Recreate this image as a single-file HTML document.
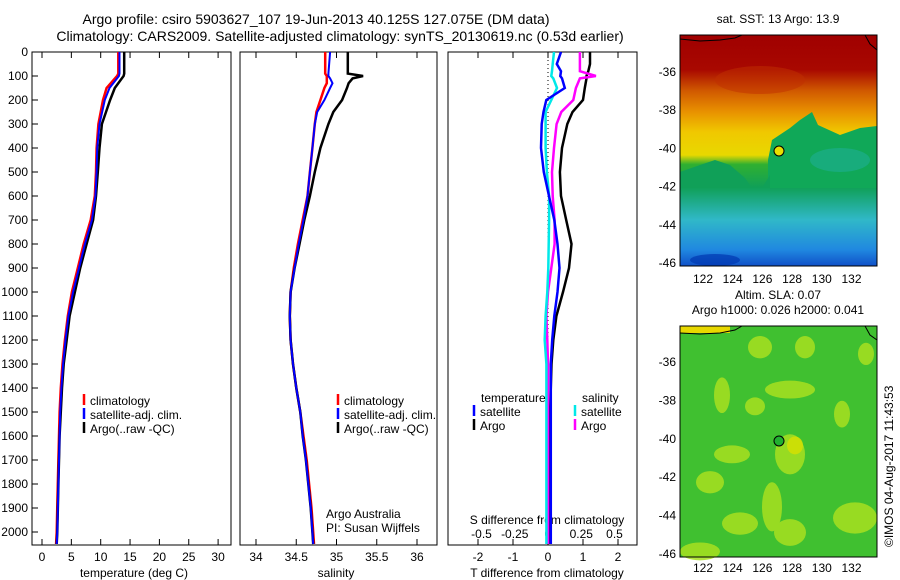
<!DOCTYPE html>
<html><head><meta charset="utf-8"><style>
body{margin:0;background:#fff;}
svg{display:block;font-family:"Liberation Sans",sans-serif;}
</style></head><body>
<svg id="fig" width="900" height="580" viewBox="0 0 900 580" xmlns="http://www.w3.org/2000/svg">
<defs>
<linearGradient id="sstg" x1="0" y1="0" x2="0" y2="1">
<stop offset="0" stop-color="#a00000"/><stop offset="0.15" stop-color="#a80800"/>
<stop offset="0.24" stop-color="#d05800"/><stop offset="0.33" stop-color="#e89000"/>
<stop offset="0.42" stop-color="#f0c800"/><stop offset="0.52" stop-color="#e8d800"/>
<stop offset="0.56" stop-color="#30b030"/><stop offset="0.66" stop-color="#10a058"/>
<stop offset="0.8" stop-color="#30b8c8"/><stop offset="0.93" stop-color="#2088e0"/>
<stop offset="1" stop-color="#1050c8"/></linearGradient>
</defs>
<g font-size="14" text-anchor="middle">
<text x="316" y="24">Argo profile: csiro 5903627_107 19-Jun-2013 40.125S 127.075E (DM data)</text>
<text x="340" y="41">Climatology: CARS2009. Satellite-adjusted climatology: synTS_20130619.nc (0.53d earlier)</text>
</g>
<g id="plots"></g>
<g>
<text x="778" y="23" font-size="12" text-anchor="middle">sat. SST: 13 Argo: 13.9</text>
<rect x="680" y="35" width="197" height="231" fill="url(#sstg)"/>
<path d="M768,160 L772,140 L790,128 L800,120 L812,112 L818,125 L840,135 L860,128 L877,126 L877,188 L768,188 Z" fill="#10a858"/>
<path d="M680,172 L700,165 L715,160 L730,165 L745,178 L752,188 L762,188 L770,175 L770,188 L680,188Z" fill="#10a058"/>
<ellipse cx="760" cy="80" rx="45" ry="14" fill="#c03000" opacity="0.5"/>
<ellipse cx="840" cy="160" rx="30" ry="12" fill="#20b0a0" opacity="0.5"/>
<ellipse cx="715" cy="260" rx="25" ry="6" fill="#0038b0" opacity="0.7"/>
<path d="M680,39 L700,41 L720,40 L735,38 L742,35" fill="none" stroke="#000"/>
<path d="M865,35 L870,44 L877,50" fill="none" stroke="#000"/>
<circle cx="779" cy="151" r="5" fill="#e8e000" stroke="#000"/>
<rect x="680" y="35" width="197" height="231" fill="none" stroke="#000"/>
</g>
<g>
<text x="778" y="299" font-size="12" text-anchor="middle">Altim. SLA: 0.07</text>
<text x="778" y="314" font-size="12" text-anchor="middle">Argo h1000: 0.026 h2000: 0.041</text>
<rect x="680" y="326" width="197" height="231" fill="#40c030"/>
<rect x="680" y="326" width="50" height="7" fill="#e8d800"/>
<g transform="translate(0,326) scale(1,1.116) translate(0,-293)">
<g fill="#a8e020" opacity="0.85">
<ellipse cx="760" cy="312" rx="12" ry="10"/><ellipse cx="805" cy="312" rx="10" ry="10"/><ellipse cx="866" cy="318" rx="8" ry="10"/>
<ellipse cx="722" cy="355" rx="8" ry="16"/><ellipse cx="790" cy="350" rx="25" ry="8"/><ellipse cx="755" cy="365" rx="10" ry="8"/>
<ellipse cx="842" cy="372" rx="8" ry="12"/><ellipse cx="790" cy="408" rx="15" ry="18"/><ellipse cx="732" cy="408" rx="18" ry="8"/>
<ellipse cx="710" cy="433" rx="14" ry="10"/><ellipse cx="772" cy="455" rx="10" ry="22"/><ellipse cx="740" cy="470" rx="18" ry="10"/>
<ellipse cx="790" cy="478" rx="16" ry="12"/><ellipse cx="855" cy="465" rx="22" ry="14"/><ellipse cx="700" cy="495" rx="20" ry="8"/>
</g>
<ellipse cx="795" cy="400" rx="8" ry="8" fill="#d8e000" opacity="0.8"/>
</g>
<path d="M680,333 L700,334 L720,333 L735,330 L742,326" fill="none" stroke="#000"/>
<path d="M865,326 L870,335 L877,340" fill="none" stroke="#000"/>
<circle cx="779" cy="441" r="5" fill="#20b030" stroke="#000"/>
<rect x="680" y="326" width="197" height="231" fill="none" stroke="#000"/>
</g>
<text font-size="12" transform="translate(893,547) rotate(-90)">©IMOS 04-Aug-2017 11:43:53</text>
</svg>
<script>
// ---- data ----
const depthT = [0,90,100,150,200,300,400,500,600,700,800,900,1000,1100,1200,1300,1400,1500,1600,1800,2000,2050];
const tempArgo = [14.0,14.0,13.9,12.4,11.6,10.2,9.8,9.5,9.2,8.7,7.6,6.5,5.6,4.7,4.2,3.7,3.4,3.2,3.0,2.8,2.6,2.5];
const tempClim = [13.0,13.0,12.8,11.0,10.4,9.6,9.3,9.2,9.0,8.3,7.1,6.1,5.1,4.4,3.9,3.5,3.2,3.0,2.9,2.7,2.5,2.4];
const tempSat  = [13.2,13.2,13.1,11.5,10.7,9.8,9.4,9.3,9.1,8.5,7.3,6.3,5.3,4.5,4.0,3.6,3.3,3.1,3.0,2.8,2.6,2.5];
const depthS = [0,90,100,110,130,150,200,250,300,400,500,600,700,800,900,1000,1100,1200,1300,1400,1500,1600,1700,1800,1900,2000,2050];
const salArgo = [35.14,35.14,35.33,35.2,35.15,35.13,35.07,34.96,34.9,34.8,34.73,34.67,34.6,34.54,34.48,34.43,34.42,34.43,34.46,34.5,34.55,34.58,34.62,34.65,34.68,34.7,34.71];
const salClim = [34.86,34.86,34.88,34.88,34.88,34.85,34.8,34.75,34.73,34.7,34.67,34.64,34.58,34.52,34.47,34.43,34.42,34.43,34.46,34.5,34.55,34.59,34.63,34.66,34.69,34.71,34.72];
const salSat  = [34.92,34.9,34.9,34.92,34.95,34.92,34.85,34.76,34.73,34.7,34.67,34.64,34.59,34.53,34.48,34.43,34.42,34.43,34.46,34.5,34.55,34.58,34.62,34.65,34.68,34.7,34.71];
const depthD = [0,50,80,100,110,150,200,250,300,400,500,600,700,800,900,1000,1100,1200,1300,1500,1800,2050];
const dTArgo = [1.2,1.2,1.15,1.1,1.1,1.05,1.0,0.7,0.55,0.4,0.34,0.37,0.52,0.67,0.6,0.43,0.24,0.15,0.1,0.06,0.05,0.05];
const dTSat  = [0.37,0.25,0.37,0.35,0.4,0.48,-0.05,-0.13,-0.18,-0.2,-0.12,0.03,0.18,0.27,0.33,0.27,0.18,0.12,0.08,0.08,0.08,0.08];
const dSArgo = [0.24,0.24,0.24,0.36,0.24,0.21,0.19,0.1,0.065,0.045,0.03,0.035,0.05,0.05,0.025,0,-0.012,-0.005,0,0,0,0];
const dSSat  = [0.045,0.035,0.03,0.025,0.04,0.068,0.025,-0.018,-0.018,-0.018,-0.008,0.008,0.008,0.005,0.002,-0.005,-0.018,-0.025,-0.012,-0.012,-0.012,-0.012];
const depthTicks = [0,100,200,300,400,500,600,700,800,900,1000,1100,1200,1300,1400,1500,1600,1700,1800,1900,2000];
const tempTicks = [0,5,10,15,20,25,30];
const salTicks = [34,34.5,35,35.5,36];
const dTTicks = [-2,-1,0,1,2];
const dSTicks = [-0.5,-0.25,0,0.25,0.5];
const dSTickLabels = ["-0.5","-0.25","0","0.25","0.5"];
const latTicks = [-36,-38,-40,-42,-44,-46];
const lonTicks = [122,124,126,128,130,132];

const NS="http://www.w3.org/2000/svg";
const root=document.getElementById('plots');
function el(tag,attrs,parent){const e=document.createElementNS(NS,tag);for(const k in attrs)e.setAttribute(k,attrs[k]);(parent||root).appendChild(e);return e;}
const yD=d=>52+d*0.24;
const xT=v=>42+v*5.87;
const xS=v=>256+(v-34)*80.5;
const xDT=v=>548+v*35;
const xDS=v=>548+v*133;

function line(xs,ys,fx,color,w,name){
  const pts=xs.map((v,i)=>fx(v).toFixed(1)+','+yD(ys[i]).toFixed(1)).join(' ');
  const p=el('polyline',{points:pts,fill:'none',stroke:color,'stroke-width':w});
  
  
}
function panel(x0,x1,name){
  const r=el('rect',{x:x0,y:52,width:x1-x0,height:493,fill:'none',stroke:'#000'});
  
  
}
function xticks(vals,labels,fx,y,name){
  vals.forEach((v,i)=>{
    const x=fx(v);
    el('line',{x1:x,x2:x,y1:545,y2:539,stroke:'#000'});
    el('line',{x1:x,x2:x,y1:52,y2:58,stroke:'#000'});
    const t=el('text',{x:x,y:y,'font-size':12,'text-anchor':'middle'});
    t.textContent=labels[i];
    
    
  });
}
function txt(x,y,s,name,anchor){
  const t=el('text',{x:x,y:y,'font-size':12,'text-anchor':anchor||'start'});
  t.textContent=s;
  
  
}
function key(x,y,color,s,name){
  el('line',{x1:x,x2:x,y1:y-11,y2:y,stroke:color,'stroke-width':2.5});
  txt(x+6,y,s,name);
}
depthTicks.forEach(d=>{
  const t=el('text',{x:28,y:yD(d)+4,'font-size':12,'text-anchor':'end'});
  t.textContent=d;
  
  
  el('line',{x1:32,x2:38,y1:yD(d),y2:yD(d),stroke:'#000'});
});
panel(32,231,'temperature-panel');
xticks(tempTicks,tempTicks.map(String),xT,561,'temperature-tick-label');
txt(134,577,'temperature (deg C)','temperature-axis-title','middle');
line(tempClim,depthT,xT,'#ff0000',2.5,'temperature-climatology-line');
line(tempArgo,depthT,xT,'#000000',2.5,'temperature-argo-line');
line(tempSat,depthT,xT,'#0000ff',2,'temperature-satellite-line');
key(84,405,'#ff0000','climatology','legend-climatology');
key(84,419,'#0000ff','satellite-adj. clim.','legend-satellite');
key(84,433,'#000000','Argo(..raw -QC)','legend-argo');
panel(240,437,'salinity-panel');
xticks(salTicks,salTicks.map(String),xS,561,'salinity-tick-label');
txt(336,577,'salinity','salinity-axis-title','middle');
line(salClim,depthS,xS,'#ff0000',2.5,'salinity-climatology-line');
line(salArgo,depthS,xS,'#000000',2.5,'salinity-argo-line');
line(salSat,depthS,xS,'#0000ff',2,'salinity-satellite-line');
key(338,405,'#ff0000','climatology','legend-climatology');
key(338,419,'#0000ff','satellite-adj. clim.','legend-satellite');
key(338,433,'#000000','Argo(..raw -QC)','legend-argo');
txt(326,518,'Argo Australia','credit-argo-australia');
txt(326,532,'PI: Susan Wijffels','credit-pi');
panel(448,637,'difference-panel');
el('line',{x1:548,x2:548,y1:52,y2:545,stroke:'#000','stroke-dasharray':'1,3'});
xticks(dTTicks,dTTicks.map(String),xDT,561,'t-difference-tick-label');
dSTicks.forEach((v,i)=>{const t=el('text',{x:xDS(v),y:538,'font-size':12,'text-anchor':'middle'});t.textContent=dSTickLabels[i];});
txt(547,524,'S difference from climatology','s-difference-axis-title','middle');
txt(547,577,'T difference from climatology','t-difference-axis-title','middle');
line(dTArgo,depthD,xDT,'#000000',2.5,'t-diff-argo-line');
line(dSArgo,depthD,xDS,'#ff00ff',2.5,'s-diff-argo-line');
line(dSSat,depthD,xDS,'#00e8e8',2.5,'s-diff-satellite-line');
line(dTSat,depthD,xDT,'#0000ff',2.5,'t-diff-satellite-line');
txt(481,402,'temperature','legend-temperature-header');
txt(582,402,'salinity','legend-salinity-header');
key(474,416,'#0000ff','satellite','legend-t-satellite');
key(474,430,'#000000','Argo','legend-t-argo');
key(575,416,'#00e8e8','satellite','legend-s-satellite');
key(575,430,'#ff00ff','Argo','legend-s-argo');
function mapAxes(top,bottom,y36,y46,lonY,latName){
  const yL=l=>y36+(-36-l)*((y46-y36)/10);
  latTicks.forEach(l=>{const y=yL(l);el('line',{x1:680,x2:684,y1:y,y2:y,stroke:'#000'});el('line',{x1:877,x2:873,y1:y,y2:y,stroke:'#000'});
    const t=el('text',{x:676,y:y+4,'font-size':12,'text-anchor':'end'});t.textContent=l;});
  lonTicks.forEach(g=>{const x=703+(g-122)*14.85;el('line',{x1:x,x2:x,y1:bottom,y2:bottom-4,stroke:'#000'});el('line',{x1:x,x2:x,y1:top,y2:top+4,stroke:'#000'});
    const t=el('text',{x:x,y:lonY,'font-size':12,'text-anchor':'middle'});t.textContent=g;});
}
mapAxes(35,266,72,263,283,'sst-latitude-tick-label');
mapAxes(326,557,362,554,572,'sla-latitude-tick-label');
</script>
</body></html>
